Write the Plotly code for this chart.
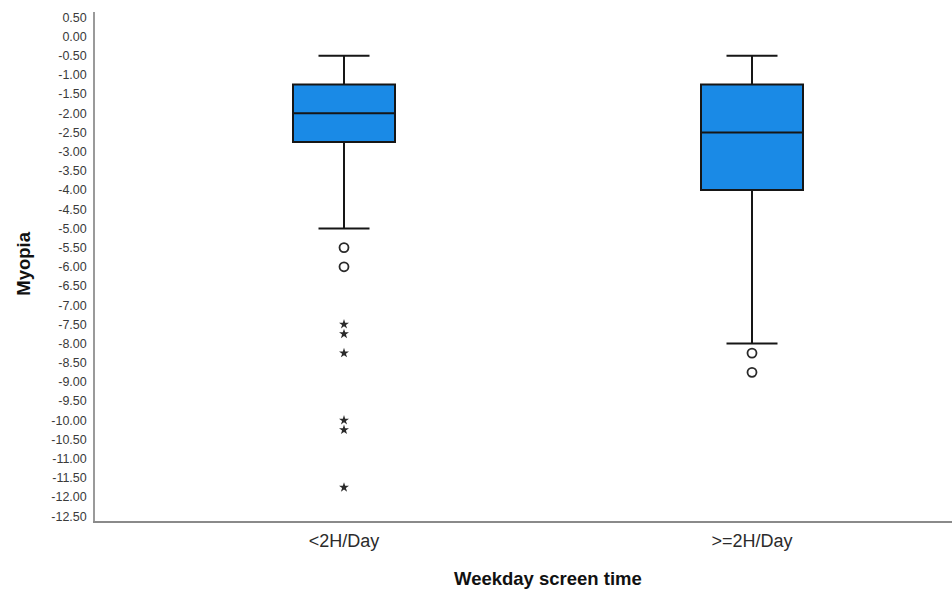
import plotly.graph_objects as go

# Weekday screen time groups and myopia (diopters) box statistics
groups = ["<2H/Day", ">=2H/Day"]
upper_whisker = [-0.50, -0.50]
q3 = [-1.25, -1.25]
median = [-2.00, -2.50]
q1 = [-2.75, -4.00]
lower_whisker = [-5.00, -8.00]

# Outliers: circles (1.5–3 IQR), stars (extreme, > 3 IQR)
outliers_circle = [[-5.50, -6.00], [-8.25, -8.75]]
outliers_extreme = [[-7.50, -7.75, -8.25, -10.00, -10.25, -11.75], []]

y_ticks = [0.5 - 0.5 * i for i in range(27)]

BOX_FILL = "#1a8ae6"
INK = "#161616"

fig = go.Figure()

for i, g in enumerate(groups):
    fig.add_trace(go.Box(
        x=[i], q1=[q1[i]], median=[median[i]], q3=[q3[i]],
        lowerfence=[lower_whisker[i]], upperfence=[upper_whisker[i]],
        width=0.25, whiskerwidth=0.5, boxpoints=False,
        fillcolor=BOX_FILL, line=dict(color=INK, width=2),
        name=g, showlegend=False, hoverinfo="skip",
    ))
    if outliers_circle[i]:
        fig.add_trace(go.Scatter(
            x=[i] * len(outliers_circle[i]), y=outliers_circle[i], mode="markers",
            marker=dict(symbol="circle-open", size=9, color="#2a2a2a",
                        line=dict(width=1.8, color="#2a2a2a")),
            showlegend=False, hoverinfo="skip",
        ))
    if outliers_extreme[i]:
        fig.add_trace(go.Scatter(
            x=[i] * len(outliers_extreme[i]), y=outliers_extreme[i], mode="markers",
            marker=dict(symbol="star", size=7.5, color="#2a2a2a", line=dict(width=0)),
            showlegend=False, hoverinfo="skip",
        ))

fig.update_layout(
    width=952, height=590,
    margin=dict(l=95, r=0, t=12, b=68.5),
    paper_bgcolor="white", plot_bgcolor="white",
    font=dict(family="Liberation Sans, Arial, sans-serif", color="#333333"),
    xaxis=dict(
        range=[-0.6103, 1.4902], tickvals=[0, 1], ticktext=groups,
        showgrid=False, zeroline=False, showline=True, linecolor="#8a8a8a",
        linewidth=1.5, ticks="", ticklabelstandoff=3,
        tickfont=dict(size=18, color="#2b2b2b"),
    ),
    yaxis=dict(
        range=[-12.625, 0.64], tickvals=y_ticks,
        ticktext=[f"{v:.2f}" for v in y_ticks],
        showgrid=False, zeroline=False, showline=True, linecolor="#9a9a9a",
        linewidth=1.5, ticks="", ticklabelstandoff=4,
        tickfont=dict(size=12.5, color="#3a3a3a"),
    ),
    annotations=[
        dict(text="<b>Weekday screen time</b>", xref="paper", yref="paper",
             x=(548 - 95) / 857, y=-(579 - 521.5) / 509.5,
             xanchor="center", yanchor="middle", showarrow=False,
             font=dict(size=18.5, color="#111111")),
        dict(text="<b>Myopia</b>", xref="paper", yref="paper",
             x=(24 - 95) / 857, y=(521.5 - 264) / 509.5,
             xanchor="center", yanchor="middle", textangle=-90, showarrow=False,
             font=dict(size=18.5, color="#111111")),
    ],
)

fig.write_html("out.html")
